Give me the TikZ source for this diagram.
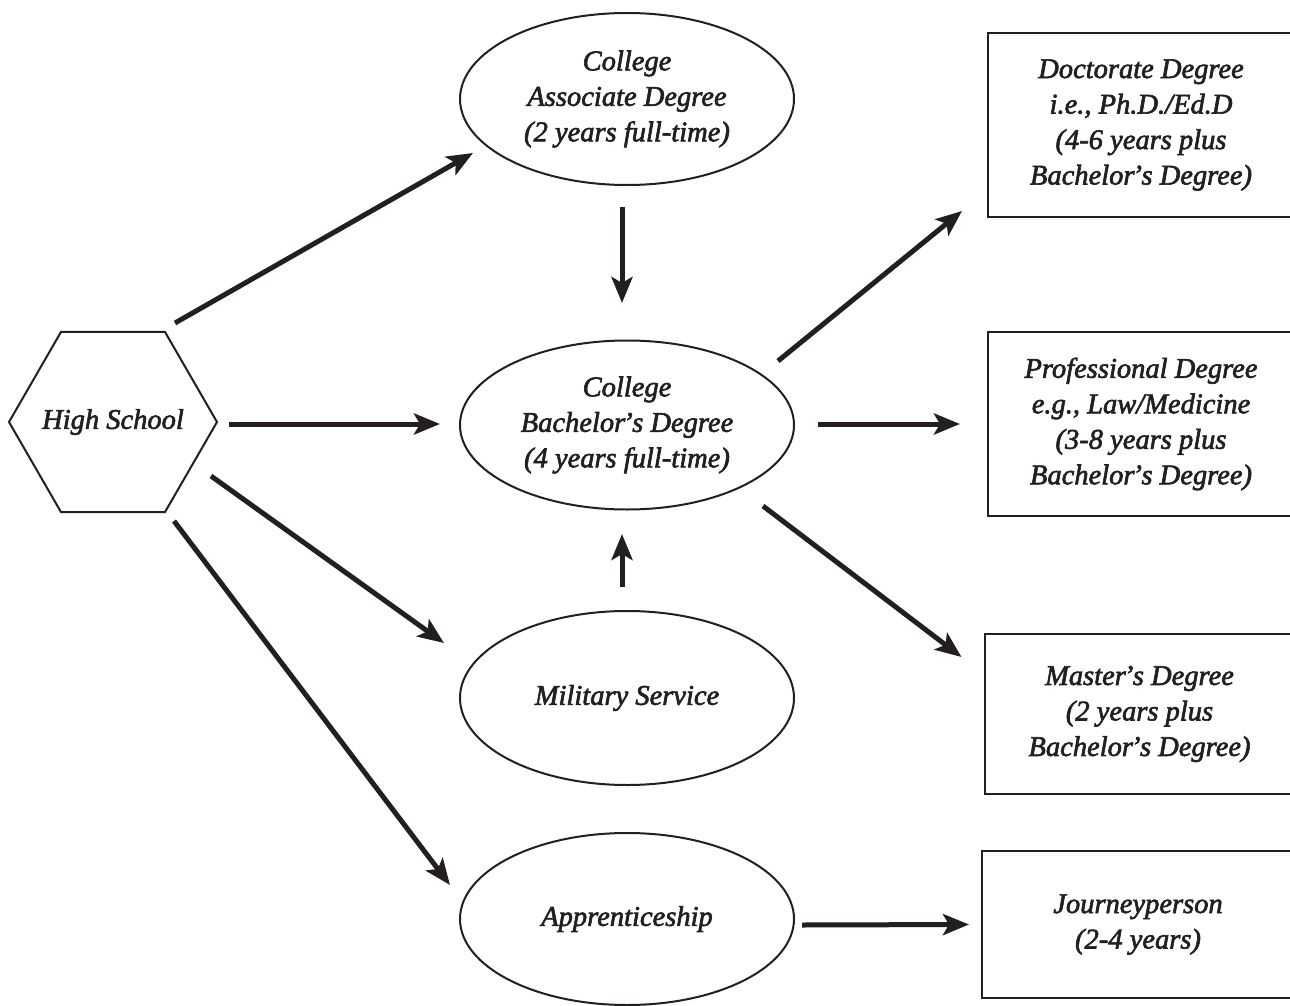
\documentclass[tikz,border=0pt]{standalone}
\usepackage{fontspec}
\newfontfamily\diagfont[ItalicFeatures={FakeBold=2.2}]{Liberation Serif}
\usetikzlibrary{shapes.geometric,arrows.meta}
\definecolor{ink}{HTML}{231F20}
\newcommand{\myapos}{\kern-2pt’\kern-0.5pt}
\begin{document}
\begin{tikzpicture}[x=1pt,y=-1pt,
  every node/.style={text=ink, font=\diagfont\itshape\fontsize{28.5}{35.5}\selectfont, align=center, inner sep=0pt, outer sep=0pt},
  every label/.style={text=ink, font=\diagfont\itshape\fontsize{28.5}{35.5}\selectfont, inner sep=0pt},
  hexa/.style={draw=ink, line width=2pt, regular polygon, regular polygon sides=6, minimum size=208pt},
  oval/.style={draw=ink, line width=2pt, ellipse, minimum width=334pt, minimum height=172pt},
  box/.style={draw=ink, line width=2.5pt, rectangle},
  arr/.style={draw=ink, line width=5pt, -{Stealth[length=26pt,width=21pt,inset=6pt]}}
]
\useasboundingbox (0,0) rectangle (1290,1006);
\fill[white] (0,0) rectangle (1290,1006);

\node[hexa, label={center:High School}] (hs) at (113,422) {};
\node[oval] (assoc) at (627,99) {College\\Associate Degree\\(2 years full-time)};
\node[oval, minimum height=169pt] (bach) at (627,425) {College\\Bachelor\myapos s Degree\\(4 years full-time)};
\node[oval, minimum height=174pt] (mil) at (627,698) {Military Service};
\node[oval] (appr) at (627,919) {Apprenticeship};

\node[box, minimum width=306pt, minimum height=184pt] (doct) at (1141,125) {Doctorate Degree\\i.e., Ph.D./Ed.D\\(4-6 years plus\\Bachelor\myapos s Degree)};
\node[box, minimum width=306pt, minimum height=184pt] (prof) at (1141,424) {Professional Degree\\e.g., Law/Medicine\\(3-8 years plus\\Bachelor\myapos s Degree)};
\node[box, minimum width=309pt, minimum height=160pt] (mast) at (1139.5,714) {Master\myapos s Degree\\(2 years plus\\Bachelor\myapos s Degree)};
\node[box, minimum width=312pt, minimum height=147pt] (journ) at (1138,924.5) {Journeyperson\\(2-4 years)};

\draw[arr] ([shift={(62,-99)}]hs.center) -- ([shift={(-154,54)}]assoc.center);
\draw[arr] ([shift={(116,2)}]hs.center) -- ([shift={(-187,-1)}]bach.center);
\draw[arr] ([shift={(98,54)}]hs.center) -- ([shift={(-183,-55)}]mil.center);
\draw[arr] ([shift={(61,99)}]hs.center) -- ([shift={(-177,-34)}]appr.center);
\draw[arr] ([shift={(-5,108)}]assoc.center) -- ([shift={(-5,-122)}]bach.center);
\draw[arr] ([shift={(-5,-111)}]mil.center) -- ([shift={(-5,109)}]bach.center);
\draw[arr] ([shift={(151,-64)}]bach.center) -- ([shift={(-179,86)}]doct.center);
\draw[arr] ([shift={(191,-1)}]bach.center) -- ([shift={(-181,0)}]prof.center);
\draw[arr] ([shift={(136,81)}]bach.center) -- ([shift={(-178,-57)}]mast.center);
\draw[arr] ([shift={(175,6)}]appr.center) -- ([shift={(-169,0)}]journ.center);
\end{tikzpicture}
\end{document}
